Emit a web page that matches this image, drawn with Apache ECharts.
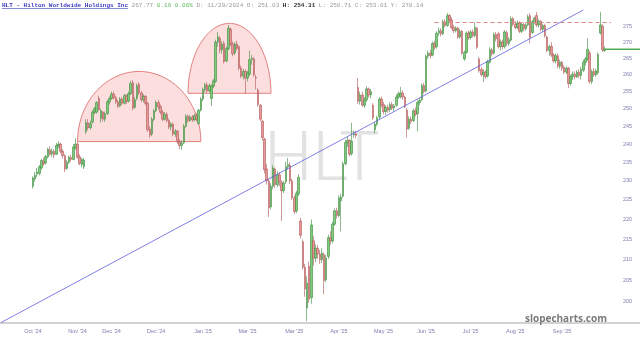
<!DOCTYPE html>
<html><head><meta charset="utf-8">
<script src="https://cdn.jsdelivr.net/npm/echarts@6/dist/echarts.min.js"></script>
<style>html,body{margin:0;padding:0;background:#fff}#c{width:640px;height:339px}</style>
</head><body><div id="c"></div>
<script>
// daily candles [open, close, low, high]
const ohlc = [
[228.6,230.8,228.0,231.2],[230.5,231.5,229.8,232.4],[231.8,232.4,231.0,233.5],[232.0,233.8,231.5,234.3],[233.5,235.5,233.0,236.0],
[235.2,234.6,234.0,236.3],[234.8,236.6,234.4,237.0],[236.5,238.6,236.0,239.0],[238.4,237.2,236.8,239.4],[237.3,238.0,236.5,238.8],
[238.0,237.0,236.2,238.6],[237.2,239.6,237.0,240.3],[239.5,240.0,238.8,240.8],[240.0,238.0,237.5,240.4],[238.0,236.8,236.0,238.6],
[236.8,233.2,232.4,237.2],[233.4,235.0,233.0,235.6],[235.0,236.4,234.6,236.8],[236.3,235.8,235.2,237.0],[235.8,239.2,235.6,240.0],
[239.0,240.0,238.4,241.6],[240.0,236.4,236.0,240.6],[236.5,234.6,234.2,237.2],[234.4,235.8,233.6,236.2],[233.8,235.6,233.2,236.2],
[243.5,246.0,242.8,247.0],[246.0,244.5,243.8,247.0],[244.6,245.8,244.0,246.6],[246.2,249.0,245.8,249.6],[249.0,250.0,248.4,250.6],
[249.0,251.8,248.6,252.2],[253.0,249.8,249.4,253.8],[247.2,249.4,246.0,250.0],[249.0,247.0,246.4,249.4],[247.0,248.6,246.2,249.2],
[248.6,252.0,248.2,252.6],[252.0,253.0,251.2,253.6],[253.0,254.3,252.6,255.0],[254.3,253.2,252.6,255.0],[253.2,252.0,251.4,253.8],
[252.0,250.8,250.2,252.6],[250.8,252.8,250.4,253.4],[252.8,251.6,251.0,253.4],[251.6,253.8,251.2,254.4],[253.8,252.2,251.4,254.2],
[252.2,254.4,251.8,255.0],[254.4,257.4,254.0,258.2],[257.6,250.2,249.6,258.4],[250.4,252.6,250.0,253.4],[253.0,256.8,252.4,257.4],
[257.2,254.6,254.0,257.8],[254.6,252.6,252.0,255.2],[252.6,253.6,251.8,254.2],[253.6,251.6,251.0,254.0],[251.6,244.0,243.4,252.0],
[244.2,242.6,241.8,245.0],[242.8,247.0,242.2,247.6],[247.0,249.4,246.4,250.0],[249.4,251.8,249.0,252.4],[251.8,250.6,249.8,252.6],
[250.6,249.0,248.4,251.2],[249.0,247.0,246.4,249.6],[247.0,248.4,246.6,249.0],[248.4,246.6,246.0,249.0],[246.6,244.8,244.2,247.2],
[244.8,245.6,243.8,246.2],[245.6,242.8,242.2,246.0],[242.8,243.6,242.0,244.2],[243.6,240.6,240.0,244.0],[240.6,239.6,238.6,241.4],
[239.6,240.2,238.4,241.0],[240.4,245.0,240.0,245.6],[245.0,247.8,244.6,248.4],[247.8,246.6,246.0,248.4],[246.6,247.6,246.2,248.2],
[247.6,246.8,246.2,248.2],[246.8,248.0,246.4,248.6],[248.0,247.0,246.4,248.8],[245.8,249.6,245.4,250.0],[249.6,252.8,249.2,253.4],
[252.8,255.6,252.2,256.2],[255.6,257.0,254.8,257.6],[257.0,255.2,254.6,257.8],[255.2,256.8,254.8,257.4],[253.0,256.6,250.8,257.2],
[256.6,258.2,256.0,258.8],[258.0,270.0,257.6,270.8],[270.0,271.6,268.6,273.2],[271.2,267.6,266.6,272.0],[267.6,269.4,266.4,270.2],
[269.6,264.0,263.4,270.4],[264.2,268.0,263.8,268.6],[268.0,274.4,267.4,275.4],[274.0,269.4,268.8,274.6],[269.4,266.4,265.6,270.2],
[266.6,269.4,266.0,270.0],[269.4,268.0,267.4,270.4],[268.6,262.0,261.4,269.0],[262.0,259.6,259.0,262.8],[259.6,261.0,258.6,261.8],
[261.0,259.0,254.4,261.6],[259.0,260.6,258.0,261.2],[260.2,264.6,259.6,267.4],[264.6,265.0,263.0,266.0],[264.8,260.0,259.4,265.4],
[259.2,259.0,255.6,260.0],[255.4,251.2,250.6,256.0],[251.0,247.0,246.4,251.4],[246.4,241.8,241.0,246.8],[241.4,233.0,232.0,241.8],
[233.2,230.0,229.0,234.6],[230.0,223.0,220.6,230.6],[223.2,228.6,222.6,229.4],[228.6,233.4,227.8,234.2],[233.2,229.0,228.2,233.6],
[229.0,231.6,228.4,232.6],[231.6,229.8,228.6,232.4],[229.6,227.4,219.6,230.2],[227.4,229.4,226.8,230.0],[229.8,233.8,229.2,235.2],
[233.8,234.4,233.0,236.2],[234.2,230.0,229.2,235.0],[230.0,225.6,225.0,230.6],[225.6,222.0,221.4,226.2],[222.2,226.8,221.6,227.4],
[226.6,231.0,226.0,231.8],[219.6,216.0,215.2,220.4],[214.4,208.2,207.6,215.0],[208.2,203.0,201.2,209.0],[198.6,204.4,195.6,206.0],
[208.4,200.6,199.8,209.6],[201.0,218.6,199.6,220.0],[214.6,210.4,208.6,215.8],[210.4,212.8,209.4,213.8],[212.8,211.4,210.2,213.6],
[211.4,210.0,209.0,212.4],[210.0,211.6,209.2,212.8],[211.2,205.0,201.8,211.8],[205.2,210.4,204.6,211.2],[210.8,215.4,210.2,216.2],
[215.4,214.6,213.6,217.0],[214.6,218.8,214.0,219.4],[218.8,222.2,218.4,222.8],[222.2,221.0,220.2,223.0],[221.0,225.6,220.6,226.2],
[224.8,225.8,217.0,226.6],[226.0,234.6,225.6,235.2],[234.6,240.4,234.2,241.2],[240.4,241.0,239.2,242.0],[241.0,237.2,236.6,241.4],
[237.4,240.8,236.8,246.0],[242.6,242.8,241.8,243.8],[242.8,242.4,241.6,243.6],[256.2,252.2,251.4,259.0],[252.2,254.0,251.2,255.0],
[254.0,251.0,250.6,255.0],[251.0,252.6,250.2,253.4],[252.6,255.8,252.0,256.6],[255.8,254.0,253.2,256.2],[254.0,255.0,253.0,255.8],
[251.0,247.4,246.8,251.6],[244.0,245.6,243.0,246.2],[245.6,247.4,245.0,248.0],[247.6,252.8,247.0,253.4],[252.8,251.2,250.4,253.6],
[251.2,249.2,248.4,252.0],[249.2,250.4,248.2,251.0],[250.4,249.6,248.8,251.2],[249.8,251.2,249.0,251.8],[251.2,250.2,249.6,252.0],
[250.2,250.8,249.2,251.4],[251.0,253.4,250.6,254.2],[253.4,254.4,252.8,255.0],[253.6,254.6,253.0,256.4],[254.6,253.4,252.6,255.4],
[253.4,250.6,250.2,253.8],[249.6,244.2,241.8,250.2],[244.4,247.0,244.0,247.8],[247.0,246.4,245.6,247.8],[246.6,249.4,246.2,250.0],
[249.4,248.4,247.8,250.4],[248.6,251.8,243.6,252.4],[251.8,252.4,251.0,253.2],[252.6,256.8,252.2,257.4],[256.8,255.0,254.4,257.6],
[255.2,265.6,254.8,266.2],[265.6,266.6,264.8,267.4],[266.6,265.8,265.0,267.6],[266.0,269.6,265.6,270.2],[269.6,268.4,267.6,270.4],
[268.6,272.8,268.0,273.4],[272.8,273.6,272.0,274.6],[273.6,272.6,271.8,274.4],[272.6,276.4,272.2,277.0],[276.4,275.2,274.6,277.2],
[275.2,278.4,274.8,279.2],[278.4,277.0,276.2,279.0],[277.0,274.6,274.0,277.8],[274.6,273.6,272.8,275.4],[273.6,274.4,273.0,275.0],
[274.4,271.6,271.0,274.8],[271.6,273.4,271.0,274.2],[273.4,266.6,266.0,273.8],[264.8,266.8,264.2,267.4],[266.8,272.8,266.4,273.4],
[272.8,271.4,270.6,273.6],[271.4,273.2,270.8,273.8],[273.2,272.0,271.4,274.0],[272.0,274.6,271.6,276.2],[274.4,268.4,267.8,274.8],
[264.8,261.2,260.6,265.4],[261.6,260.0,259.4,262.4],[260.0,260.8,257.8,261.6],[260.8,259.4,258.8,261.4],[259.6,264.0,259.2,264.6],
[263.8,267.6,263.4,268.4],[267.6,266.4,265.6,268.2],[266.6,272.4,266.2,273.0],[272.4,271.0,270.2,273.2],[272.6,268.6,268.0,273.2],
[268.6,270.0,267.4,270.8],[270.0,268.6,267.8,270.8],[268.6,273.2,268.0,273.8],[273.0,269.6,268.8,273.6],[269.6,270.8,268.8,271.6],
[270.6,277.4,270.2,278.2],[277.4,275.6,275.0,278.0],[275.6,274.6,274.0,276.6],[274.6,276.0,274.0,276.8],[276.0,273.4,272.8,276.6],
[273.4,275.6,272.8,276.2],[275.6,274.2,273.4,276.2],[274.2,275.4,273.6,276.0],[275.4,278.0,275.0,278.8],[278.4,271.4,269.6,279.2],
[273.0,276.4,272.6,277.0],[276.4,277.6,275.8,278.0],[278.4,275.4,274.8,279.6],[275.4,276.6,274.6,277.2],[276.6,274.0,273.4,277.0],
[274.0,275.2,273.2,275.8],[275.2,272.0,271.4,275.8],[271.6,267.4,266.8,272.0],[267.4,268.6,265.8,269.2],[268.6,266.0,265.4,270.0],
[266.0,264.2,263.6,266.6],[264.2,265.8,263.4,266.4],[265.8,262.6,262.0,266.4],[262.6,263.8,261.8,264.6],[263.8,262.0,261.2,264.2],
[262.2,260.8,260.2,263.0],[260.8,262.0,260.2,262.6],[262.0,257.4,256.0,262.4],[257.4,259.4,256.8,260.0],[259.4,260.2,258.4,261.0],
[260.2,259.4,258.6,261.0],[259.4,260.8,259.0,261.4],[260.8,259.8,259.0,261.6],[259.8,261.6,258.6,262.4],[261.4,263.8,260.8,264.6],
[263.8,264.8,262.8,265.4],[264.8,267.8,264.2,271.2],[266.6,258.0,257.4,267.4],[258.0,261.0,257.2,261.6],[261.0,260.0,259.4,262.0],
[260.0,261.2,259.4,261.8],[260.6,266.2,260.0,266.8],[272.8,275.4,272.4,279.6],[275.0,267.6,267.0,275.6],[267.4,267.77,266.9,268.6]
];
const leadPad = 15;
const tailPad = 3;
const xTickLabels = ["Oct '24","Nov '24","Dec '24","Dec '24","Jan '25","Mar '25","Mar '25","Apr '25","May '25","Jun '25","Jul '25","Aug '25","Sep '25"];
const xTickIndex = [15, 36, 52, 73, 95, 116, 138, 159, 180, 200, 221, 242, 264];
const yTickValues = [200,205,210,215,220,225,230,235,240,245,250,255,260,265,270,275];
const yMin = 195.2, yMax = 280.2;
const lastClose = 267.77;
const resistance = 276.3;
const resistanceFrom = 204;
const trendStart = [0, 195.3];
const trendEnd = [274, 280.2];
const domes = [
  {from: 36, to: 94, base: 240.7, top: 261.0},
  {from: 88, to: 127, base: 254.5, top: 275.9}
];
const header = {
  name: 'HLT - Hilton Worldwide Holdings Inc',
  last: '267.77', chg: '0.16 0.06%',
  pre: 'D: 11/29/2024 O: 251.03', hi: 'H: 254.31', post: 'L: 250.71 C: 253.01 Y: 278.14'
};

const total = leadPad + ohlc.length + tailPad;
const categories = Array.from({length: total}, (_, i) => String(i));
const seriesData = Array(leadPad).fill('-').concat(ohlc).concat(Array(tailPad).fill('-'));
const lastCat = leadPad + ohlc.length - 1;

const chart = echarts.init(document.getElementById('c'), null, {renderer: 'canvas'});
const mono = '"Liberation Mono", "DejaVu Sans Mono", monospace';
const lblColor = '#7d7db0';

chart.setOption({
  animation: false,
  backgroundColor: '#fff',
  title: {
    left: 2, top: 2, padding: 0,
    text: '{n|' + header.name + '} {b|' + header.last + '} {g|' + header.chg + '} {b|' + header.pre + '} {h|' + header.hi + '} {b|' + header.post + '}',
    textStyle: {
      fontFamily: mono, fontSize: 6, color: '#999', fontWeight: 'normal',
      rich: {
        n: {fontFamily: mono, fontSize: 6, color: '#3b3bc4', fontWeight: 'bold'},
        b: {fontFamily: mono, fontSize: 6, color: '#999'},
        g: {fontFamily: mono, fontSize: 6, color: '#5cb85c'},
        h: {fontFamily: mono, fontSize: 6, color: '#333', fontWeight: 'bold'}
      }
    }
  },
  grid: {left: 0, right: 28, top: 10, bottom: 16, containLabel: false},
  xAxis: {
    type: 'category', data: categories, boundaryGap: true,
    axisLine: {show: true, lineStyle: {color: '#c4c4c4', width: 1.5}},
    axisTick: {show: false},
    splitLine: {show: false},
    axisLabel: {
      show: true, color: lblColor, fontSize: 5.5, fontFamily: '"Liberation Sans", sans-serif', margin: 5,
      interval: (idx) => xTickIndex.indexOf(idx) >= 0,
      formatter: (v, idx) => { const k = xTickIndex.indexOf(idx); return k >= 0 ? xTickLabels[k] : ''; }
    }
  },
  yAxis: {
    type: 'log', logBase: 10, min: yMin, max: yMax, position: 'right', scale: true,
    axisLine: {show: false}, axisTick: {show: false}, axisLabel: {show: false}, splitLine: {show: false}
  },
  series: [{
    type: 'candlestick', data: seriesData, barWidth: 2, z: 3,
    itemStyle: {color: '#7ccc7c', color0: '#e89898', borderColor: '#3d8a3d', borderColor0: '#b05656', borderWidth: 0.6},
    markLine: {
      silent: true, symbol: ['none', 'none'], animation: false,
      data: [
        [{coord: [trendStart[0], trendStart[1]], lineStyle: {color: '#5e5ee0', width: 0.8, type: 'solid'}, label: {show: false}},
         {coord: [trendEnd[0], trendEnd[1]]}],
        [{coord: [resistanceFrom, resistance], lineStyle: {color: '#e08585', width: 1, type: [4, 3]}, label: {show: false}},
         {coord: [total - 1, resistance]}]
      ]
    }
  }, {
    type: 'line', data: [], silent: true,
    markLine: {
      silent: true, symbol: ['none', 'none'], animation: false,
      lineStyle: {color: 'rgba(255,255,255,0)', width: 0.01, type: 'solid'},
      label: {show: true, position: 'end', distance: 11, color: lblColor, fontSize: 5.5, fontFamily: '"Liberation Sans", sans-serif', formatter: (p) => String(p.value)},
      data: yTickValues.map(v => ({yAxis: v}))
    }
  }]
});

// drawings anchored to the data coordinate system
const toPx = (c, v) => chart.convertToPixel({xAxisIndex: 0, yAxisIndex: 0}, [c, v]);
const graphics = [];
graphics.push({type: 'text', z: 0, x: 322, y: 163, silent: true,
  style: {text: 'HLT', font: '300 68px Roboto, "Open Sans", sans-serif', fill: '#e2e2e2', align: 'center', verticalAlign: 'middle'}});
domes.forEach(d => {
  const pl = toPx(d.from, d.base), pr = toPx(d.to, d.base), pt = toPx(d.from, d.top);
  const cx = (pl[0] + pr[0]) / 2, rx = (pr[0] - pl[0]) / 2, yb = pl[1], ry = pl[1] - pt[1];
  const pts = [];
  for (let k = 0; k <= 60; k++) { const a = Math.PI * (1 - k / 60); pts.push([cx + rx * Math.cos(a), yb - ry * Math.sin(a)]); }
  graphics.push({type: 'polygon', z: 1, silent: true, shape: {points: pts},
    style: {fill: 'rgba(240,90,90,0.2)', stroke: '#e28080', lineWidth: 1}});
});
const lp = toPx(lastCat, lastClose);
graphics.push({type: 'line', z: 5, silent: true, shape: {x1: lp[0], y1: lp[1], x2: 640, y2: lp[1]}, style: {stroke: '#55aa55', lineWidth: 1.6}});
const axisY = toPx(0, yMin)[1];
graphics.push({type: 'line', z: 5, silent: true, shape: {x1: 612, y1: axisY, x2: 640, y2: axisY}, style: {stroke: '#c4c4c4', lineWidth: 1.5}});
graphics.push({type: 'text', z: 5, x: 607, y: 319, silent: true,
  style: {text: 'slopecharts.com', font: 'bold 10px "Open Sans", sans-serif', fill: '#7a7a7a', align: 'right', verticalAlign: 'middle'}});
graphics.push({type: 'line', z: 5, silent: true, shape: {x1: 2, y1: 8.5, x2: 128, y2: 8.5}, style: {stroke: '#3b3bc4', lineWidth: 0.6}});
chart.setOption({graphic: graphics});
</script></body></html>
